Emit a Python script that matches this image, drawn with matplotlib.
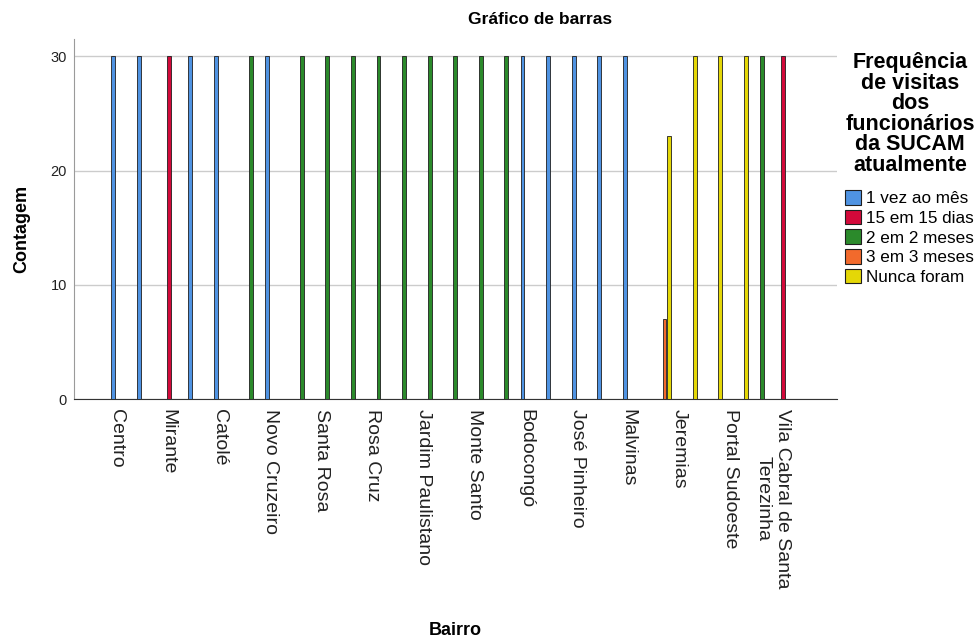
import matplotlib
matplotlib.use("Agg")
import matplotlib.pyplot as plt
import matplotlib.transforms as mtransforms
from matplotlib.patches import Patch

plt.rcParams['font.family'] = ['Liberation Sans', 'DejaVu Sans']

# Bairros: o SPSS so mostra o rotulo de uma categoria em cada duas
n_bairros = 27
bairros_rotulos = ["Centro", "Mirante", "Catolé", "Novo Cruzeiro", "Santa Rosa", "Rosa Cruz",
                   "Jardim Paulistano", "Monte Santo", "Bodocongó", "José Pinheiro", "Malvinas",
                   "Jeremias", "Portal Sudoeste", "Vila Cabral de Santa\nTerezinha"]

# Frequencia de visitas (legenda) e cores
frequencias = ["1 vez ao mês", "15 em 15 dias", "2 em 2 meses", "3 em 3 meses", "Nunca foram"]
cores = ["#4f93e2", "#d3093a", "#2b8a2b", "#f26a2c", "#e4d707"]

# Contagens por bairro (27 categorias) para cada frequencia
contagem_1_mes = [30, 30, 0, 30, 30, 0, 30, 0, 0, 0, 0, 0, 0, 0,
                  0, 0, 30, 30, 30, 30, 30, 0, 0, 0, 0, 0, 0]
contagem_15_dias = [0, 0, 30, 0, 0, 0, 0, 0, 0, 0, 0, 0, 0, 0,
                    0, 0, 0, 0, 0, 0, 0, 0, 0, 0, 0, 0, 30]
contagem_2_meses = [0, 0, 0, 0, 0, 30, 0, 30, 30, 30, 30, 30, 30, 30,
                    30, 30, 0, 0, 0, 0, 0, 0, 0, 0, 0, 30, 0]
contagem_3_meses = [0, 0, 0, 0, 0, 0, 0, 0, 0, 0, 0, 0, 0, 0,
                    0, 0, 0, 0, 0, 0, 0, 7, 0, 0, 0, 0, 0]
contagem_nunca = [0, 0, 0, 0, 0, 0, 0, 0, 0, 0, 0, 0, 0, 0,
                  0, 0, 0, 0, 0, 0, 0, 23, 30, 30, 30, 0, 0]

series = [contagem_1_mes, contagem_15_dias, contagem_2_meses, contagem_3_meses, contagem_nunca]

fig = plt.figure(figsize=(9.79, 6.39), dpi=100)
ax = fig.add_axes([0.0756, 0.3751, 0.7794, 0.5639])

# barras agrupadas (5 posicoes por bairro), so desenha as contagens > 0
passo = 0.184
largura = 0.15
for k, valores in enumerate(series):
    xs = [i + (k - 2) * passo for i, v in enumerate(valores) if v > 0]
    hs = [v for v in valores if v > 0]
    ax.bar(xs, hs, width=largura, color=cores[k], edgecolor="#1e1e1e", linewidth=0.6, zorder=3)

ax.set_xlim(-1.905, 27.93)
ax.set_ylim(0, 31.5)

# grade horizontal
ax.set_yticks([0, 10, 20, 30])
ax.yaxis.grid(True, color="#cccccc", linewidth=1.0, zorder=0)
ax.set_axisbelow(True)
ax.tick_params(axis="y", length=0, pad=5, labelsize=10.5, labelcolor="#222222")

ax.set_xticks(range(0, n_bairros, 2))
ax.set_xticklabels(bairros_rotulos, rotation=270, ha="center", va="top", fontsize=14,
                   color="#222222")
ax.tick_params(axis="x", length=0, pad=7)
deslocamento = mtransforms.ScaledTranslation(-6 / 100, 0, fig.dpi_scale_trans)
for lab in ax.get_xticklabels():
    lab.set_transform(lab.get_transform() + deslocamento)
    if "\n" in lab.get_text():
        lab.set_transform(lab.get_transform() + mtransforms.ScaledTranslation(-9 / 100, 0, fig.dpi_scale_trans))

for lado in ["top", "right"]:
    ax.spines[lado].set_visible(False)
ax.spines["left"].set_color("#9a9a9a")
ax.spines["bottom"].set_color("#333333")

ax.set_ylabel("Contagem", fontsize=13, fontweight="bold")
ax.yaxis.set_label_coords(-0.0577, 0.4727)
ax.set_xlabel("Bairro", fontsize=13, fontweight="bold")
ax.xaxis.set_label_coords(0.5, -0.618)

fig.text(540 / 979, 1 - 20 / 639, "Gráfico de barras", ha="center", va="center",
         fontsize=12.5, fontweight="bold")

# legenda
fig.text(910 / 979, 1 - 52 / 639,
         "Frequência\nde visitas\ndos\nfuncionários\nda SUCAM\natualmente",
         ha="center", va="top", fontsize=15.5, fontweight="bold", linespacing=0.97)
handles = [Patch(facecolor=c, edgecolor="#1e1e1e", linewidth=0.8) for c in cores]
fig.legend(handles, frequencias, loc="upper left", bbox_to_anchor=(845 / 979, 1 - 190 / 639),
           frameon=False, fontsize=12.3, handlelength=0.95, handleheight=0.95,
           handletextpad=0.3, labelspacing=0.2, borderpad=0, borderaxespad=0)

fig.savefig("out.png", dpi=100)
